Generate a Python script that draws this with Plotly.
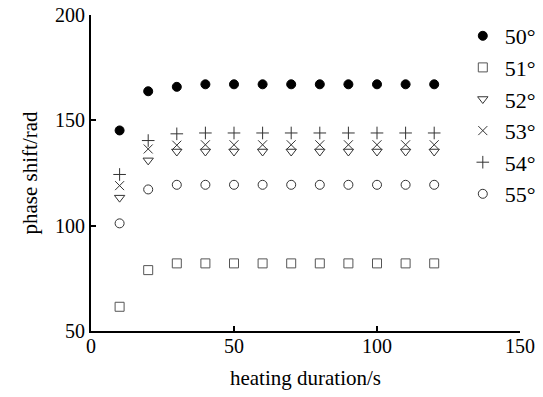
import plotly.graph_objects as go

durations = [10, 20, 30, 40, 50, 60, 70, 80, 90, 100, 110, 120]
labels = ["50°", "51°", "52°", "53°", "54°", "55°"]
s50 = [145.2, 163.8, 165.9, 167.1, 167.1, 167.1, 167.1, 167.1, 167.1, 167.1, 167.1, 167.1]
s51 = [61.5, 78.9, 82.1, 82.1, 82.1, 82.1, 82.1, 82.1, 82.1, 82.1, 82.1, 82.1]
s52 = [113.3, 131.0, 135.2, 135.2, 135.2, 135.2, 135.2, 135.2, 135.2, 135.2, 135.2, 135.2]
s53 = [119.0, 136.4, 138.2, 138.4, 138.4, 138.4, 138.4, 138.4, 138.4, 138.4, 138.4, 138.4]
s54 = [124.3, 140.4, 143.6, 144.0, 144.0, 144.0, 144.0, 144.0, 144.0, 144.0, 144.0, 144.0]
s55 = [101.1, 117.2, 119.4, 119.4, 119.4, 119.4, 119.4, 119.4, 119.4, 119.4, 119.4, 119.4]
series = [s50, s51, s52, s53, s54, s55]

symbols = ["circle", "square-open", "triangle-down-open", "x-thin-open", "cross-thin-open", "circle-open"]
colors = ["black", "#555", "#333", "#333", "#333", "#333"]

fig = go.Figure()
for i, (lab, ys) in enumerate(zip(labels, series)):
    fig.add_trace(go.Scatter(
        x=durations, y=ys, mode="markers", name=lab,
        marker=dict(symbol=symbols[i], size=9, color=colors[i],
                    line=dict(color=colors[i], width=1)),
    ))

serif = "Liberation Serif, Times New Roman, serif"
tickfont = dict(family=serif, size=20, color="black")
titlefont = dict(family=serif, size=21, color="black")
fig.update_layout(
    width=543, height=397,
    margin=dict(l=91, r=23, t=15, b=66, autoexpand=False),
    paper_bgcolor="white", plot_bgcolor="white",
    font=dict(family=serif, size=20, color="black"),
    showlegend=True,
    legend=dict(x=0.862, y=1.0, xanchor="left", yanchor="top",
                bgcolor="rgba(0,0,0,0)", itemwidth=34,
                font=dict(family=serif, size=22, color="black")),
    xaxis=dict(range=[0, 150], tickvals=[0, 50, 100, 150], showgrid=False, zeroline=False,
               showline=True, linecolor="black", linewidth=2, ticks="inside",
               ticklen=5, tickwidth=2, tickcolor="black", automargin=False,
               ticklabelstandoff=-4,
               title=dict(text="heating duration/s", standoff=14, font=titlefont), tickfont=tickfont),
    yaxis=dict(range=[50, 200], tickvals=[50, 100, 150, 200], showgrid=False, zeroline=False,
               showline=True, linecolor="black", linewidth=2, ticks="inside",
               ticklen=5, tickwidth=2, tickcolor="black", automargin=False,
               title=dict(text="phase shift/rad", standoff=12, font=titlefont), tickfont=tickfont),
)
fig.write_html("out.html", config={"displayModeBar": False},
               post_script="document.body.style.margin='0px';")
